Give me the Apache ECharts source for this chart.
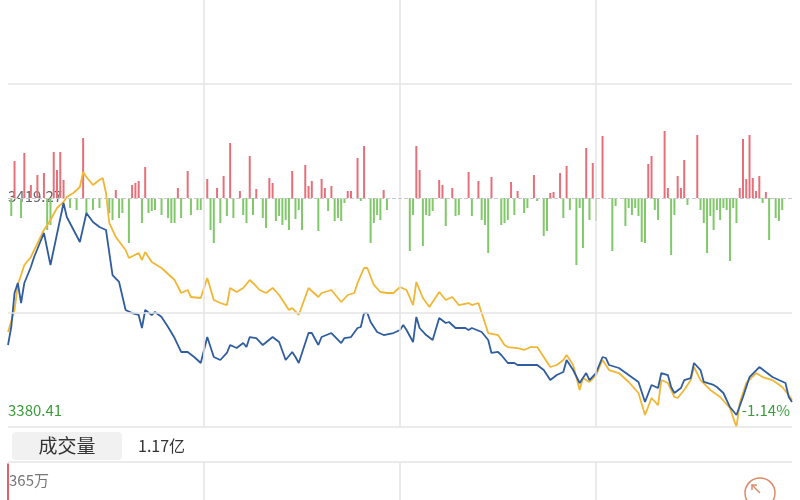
<!DOCTYPE html>
<html><head><meta charset="utf-8">
<script src="https://cdn.jsdelivr.net/npm/echarts@6/dist/echarts.min.js"></script>
<style>html,body{margin:0;padding:0;background:#fff}#c{width:800px;height:500px}</style>
</head><body><div id="c"></div>
<script>
// ---- data (minute index 0..240 of the trading day, value) ----
const prevClose = 3419.27;
const lowPrice = 3380.41;
const axisTopPrice = 3452.87;   // price at the top edge of the visible panel
const gridPrices = [3438.70, 3399.84, 3380.41];
const timeSplits = [60, 120, 180];
const labelTexts = { prev: '3419.27', low: '3380.41', pct: '-1.14%', volBtn: '成交量', volTotal: '1.17亿', volMax: '365万' };

const blueLine = [[0,3394.32],[1,3397.38],[2,3403.15],[3,3404.85],[4,3401.45],[5,3404.85],[7,3407.56],[8,3409.26],[11,3413.33],[13,3407.90],[17,3418.42],[18,3416.05],[22,3411.80],[24,3416.72],[26,3415.20],[28,3414.35],[30,3413.84],[32,3406.20],[34,3405.02],[36,3400.26],[38,3399.75],[40,3399.42],[41,3397.21],[42,3400.26],[44,3399.42],[45,3399.92],[47,3399.08],[49,3397.38],[51,3395.51],[53,3393.14],[55,3393.14],[57,3392.29],[59,3391.27],[61,3395.68],[63,3392.29],[65,3391.78],[67,3392.97],[68,3394.32],[70,3393.81],[72,3394.66],[73,3393.98],[74,3395.68],[76,3395.51],[78,3394.32],[81,3395.68],[83,3394.83],[85,3391.78],[87,3393.14],[88,3392.29],[89,3391.27],[92,3396.36],[93,3396.36],[95,3394.32],[96,3395.68],[99,3396.36],[102,3394.66],[103,3395.51],[105,3395.68],[107,3397.21],[108,3397.38],[109,3399.75],[110,3399.75],[111,3398.23],[113,3396.53],[115,3396.02],[118,3396.36],[120,3396.87],[121,3397.72],[122,3396.87],[124,3394.83],[125,3399.08],[126,3397.21],[128,3396.02],[130,3395.17],[132,3398.91],[134,3398.06],[135,3398.23],[137,3397.21],[140,3397.21],[141,3396.87],[142,3397.21],[145,3396.53],[147,3395.17],[148,3392.97],[150,3393.14],[151,3392.63],[153,3391.27],[155,3391.27],[156,3390.93],[158,3390.93],[160,3390.93],[162,3390.93],[164,3390.08],[166,3388.38],[168,3389.23],[170,3389.74],[171,3391.78],[173,3390.08],[175,3387.88],[177,3389.57],[178,3388.38],[180,3389.57],[182,3392.29],[183,3392.12],[184,3390.93],[187,3390.42],[190,3389.23],[193,3388.05],[195,3384.65],[197,3387.54],[199,3387.03],[200,3389.57],[202,3389.23],[203,3387.20],[204,3386.18],[206,3387.03],[207,3388.38],[209,3388.72],[210,3391.27],[212,3390.08],[213,3388.05],[216,3387.54],[217,3387.20],[219,3386.18],[221,3383.80],[223,3382.45],[225,3385.50],[227,3388.89],[230,3390.59],[232,3389.74],[234,3388.89],[236,3388.38],[238,3387.88],[239,3385.50],[240,3384.65]];

const yellowLine = [[0,3396.53],[2,3400.26],[3,3404.51],[5,3407.90],[7,3409.26],[11,3413.84],[13,3415.54],[15,3417.57],[17,3418.59],[18,3419.44],[20,3420.12],[22,3421.14],[23,3423.68],[24,3422.83],[26,3421.48],[28,3422.32],[29,3422.66],[30,3420.12],[31,3415.03],[33,3412.65],[36,3410.45],[37,3409.09],[40,3409.94],[41,3408.75],[42,3410.11],[44,3408.41],[47,3407.39],[51,3405.35],[53,3403.15],[55,3403.66],[56,3402.47],[59,3402.30],[61,3405.69],[63,3401.96],[65,3401.45],[67,3401.11],[68,3404.00],[70,3403.32],[72,3404.00],[74,3405.35],[75,3404.85],[77,3403.66],[79,3403.15],[81,3404.00],[83,3402.81],[86,3400.26],[87,3400.60],[89,3399.42],[92,3404.00],[95,3402.47],[96,3403.15],[99,3403.66],[102,3401.62],[104,3402.81],[106,3403.15],[107,3404.85],[109,3407.39],[110,3407.39],[112,3404.51],[114,3403.32],[116,3403.15],[118,3403.15],[120,3404.17],[122,3403.66],[124,3401.11],[125,3405.02],[127,3402.30],[129,3400.77],[132,3403.32],[134,3401.96],[136,3402.47],[138,3401.11],[141,3401.45],[142,3401.11],[144,3401.45],[145,3399.75],[147,3396.36],[150,3396.02],[152,3394.32],[153,3393.98],[156,3393.81],[158,3393.48],[160,3393.98],[162,3393.98],[164,3392.29],[166,3390.59],[168,3390.93],[170,3391.78],[171,3392.63],[173,3390.93],[175,3386.69],[176,3388.72],[178,3388.05],[180,3389.23],[182,3391.78],[184,3390.08],[187,3389.57],[190,3388.05],[193,3386.18],[195,3382.45],[197,3385.33],[199,3384.14],[200,3388.38],[202,3387.88],[204,3385.50],[205,3385.33],[207,3386.69],[209,3388.38],[210,3390.59],[212,3388.38],[215,3386.69],[218,3385.50],[221,3383.63],[223,3380.41],[224,3384.48],[226,3387.88],[229,3389.57],[231,3388.89],[234,3388.38],[237,3387.20],[239,3385.84],[240,3384.99]];

const strengthBars = [[1,-18],[2,37],[4,-20],[5,45],[7,13],[9,23],[11,25],[12,-32],[13,-27],[14,46],[15,28],[16,46],[17,18],[19,-10],[21,-12],[23,60],[24,-15],[26,-12],[28,-10],[31,-15],[32,-22],[33,8],[34,-20],[35,-15],[37,-45],[38,13],[39,15],[40,17],[41,-25],[42,31],[43,-15],[44,-13],[45,-12],[47,-17],[49,-20],[50,-25],[51,-25],[52,10],[53,-20],[55,27],[56,-17],[58,-12],[59,-12],[61,19],[62,-32],[63,-45],[64,10],[65,-25],[66,22],[67,-18],[68,55],[69,-20],[71,7],[72,-17],[73,-25],[74,42],[75,-17],[76,9],[78,-20],[79,-30],[80,20],[81,15],[82,-23],[83,-18],[84,-27],[85,-22],[86,-32],[87,27],[88,-21],[89,-12],[90,-32],[91,33],[92,12],[93,17],[95,-33],[96,19],[97,10],[98,-13],[99,12],[100,-23],[101,-20],[102,-23],[103,-5],[104,7],[105,7],[107,40],[108,-3],[109,52],[111,-45],[112,-25],[113,-17],[114,-22],[115,8],[116,-12],[123,-53],[124,-17],[125,52],[126,28],[127,-48],[128,-17],[129,-18],[130,-13],[132,18],[133,13],[134,-28],[136,10],[137,-18],[138,-17],[141,26],[142,-18],[144,17],[145,-22],[146,-27],[147,-55],[148,21],[151,-27],[152,-25],[153,-22],[154,16],[155,-17],[156,7],[158,-15],[159,-10],[161,23],[162,-3],[164,-38],[165,-33],[166,5],[167,6],[169,25],[170,-20],[171,32],[172,-12],[174,-67],[175,-10],[176,-50],[177,50],[178,-22],[179,35],[180,-23],[182,62],[185,-53],[186,-8],[189,-28],[190,-10],[191,-17],[192,-10],[193,-18],[194,-44],[195,-45],[196,34],[197,42],[198,-12],[199,-22],[201,67],[202,10],[203,-57],[204,-17],[205,22],[206,10],[207,38],[208,-7],[211,63],[212,-12],[213,-25],[214,-55],[215,-18],[216,-32],[217,-12],[218,-22],[219,-10],[220,-12],[221,-63],[222,-10],[223,-25],[224,10],[225,59],[226,19],[227,63],[228,20],[229,7],[230,22],[231,-5],[232,6],[233,-42],[235,-20],[236,-23],[237,-12]];
const strengthRange = [-229, 198];

const volumeBars = [[0,365]];
const volumeMax = 380;

// ---- chart ----
const chart = echarts.init(document.getElementById('c'));
const gridColor = '#e4e4e4';
const fontCN = '"Noto Sans CJK SC","Noto Sans",sans-serif';

const vLines = timeSplits.map(v => ({ xAxis: v }));
const option = {
  animation: false,
  backgroundColor: '#ffffff',
  grid: [
    { left: 8, right: 8, top: 0, height: 427 },
    { left: 8, right: 8, top: 462, height: 100 }
  ],
  xAxis: [
    { type: 'value', gridIndex: 0, min: 0, max: 240, show: false },
    { type: 'value', gridIndex: 1, min: 0, max: 240, show: false }
  ],
  yAxis: [
    { type: 'value', gridIndex: 0, min: lowPrice, max: axisTopPrice, show: false },
    { type: 'value', gridIndex: 0, min: strengthRange[0], max: strengthRange[1], show: false },
    { type: 'value', gridIndex: 1, min: 0, max: volumeMax, show: false }
  ],
  series: [
    {
      type: 'line', xAxisIndex: 0, yAxisIndex: 0, data: [], silent: true, z: 1,
      markLine: {
        silent: true, symbol: 'none', label: { show: false },
        lineStyle: { color: gridColor, type: 'solid', width: 1.5 },
        data: gridPrices.map(v => ({ yAxis: v })).concat(vLines)
      }
    },
    {
      type: 'line', xAxisIndex: 0, yAxisIndex: 0, data: [], silent: true, z: 1,
      markLine: {
        silent: true, symbol: 'none', label: { show: false },
        lineStyle: { color: '#c8c8c8', type: 'dashed', width: 1 },
        data: [{ yAxis: prevClose }]
      }
    },
    {
      type: 'bar', xAxisIndex: 0, yAxisIndex: 1, data: strengthBars, barWidth: 2, z: 2,
      itemStyle: { color: p => p.value[1] >= 0 ? '#e6707a' : '#80c86a' }
    },
    {
      type: 'line', xAxisIndex: 0, yAxisIndex: 0, data: yellowLine, showSymbol: false, z: 3,
      lineStyle: { color: '#f1b634', width: 1.8 }
    },
    {
      type: 'line', xAxisIndex: 0, yAxisIndex: 0, data: blueLine, showSymbol: false, z: 4,
      lineStyle: { color: '#2f5d9f', width: 1.8 }
    },
    {
      type: 'bar', xAxisIndex: 1, yAxisIndex: 2, data: volumeBars, barWidth: 2, z: 2,
      itemStyle: { color: '#e0606c' },
      markLine: {
        silent: true, symbol: 'none', label: { show: false },
        lineStyle: { color: gridColor, type: 'solid', width: 1.5 },
        data: [{ yAxis: volumeMax }].concat(vLines)
      }
    }
  ],
  graphic: [
    { type: 'text', left: 8, top: 189, z: 0, style: { text: labelTexts.prev, fill: '#666', font: '15px ' + fontCN } },
    { type: 'text', left: 8, top: 403, style: { text: labelTexts.low, fill: '#3a9c3a', font: '15px ' + fontCN } },
    { type: 'text', right: 10, top: 403, style: { text: labelTexts.pct, fill: '#3a9c3a', font: '15px ' + fontCN } },
    { type: 'rect', shape: { x: 12, y: 432, width: 110, height: 28, r: 4 }, style: { fill: '#f1f1f1' } },
    { type: 'text', x: 67, y: 446, style: { text: labelTexts.volBtn, fill: '#333', font: '19px ' + fontCN, align: 'center', verticalAlign: 'middle' } },
    { type: 'text', x: 138, y: 446, style: { text: labelTexts.volTotal, fill: '#333', font: '16px ' + fontCN, verticalAlign: 'middle' } },
    { type: 'text', x: 9, y: 480, style: { text: labelTexts.volMax, fill: '#777', font: '15px ' + fontCN, verticalAlign: 'middle' } },
    { type: 'circle', shape: { cx: 760, cy: 493, r: 15 }, style: { fill: 'none', stroke: '#de8a68', lineWidth: 1.5 } },
    { type: 'polyline', shape: { points: [[752, 485], [760, 493]] }, style: { stroke: '#de8a68', lineWidth: 1.5 } },
    { type: 'polyline', shape: { points: [[752, 490], [752, 485], [757, 485]] }, style: { stroke: '#de8a68', fill: 'none', lineWidth: 1.5 } }
  ]
};
chart.setOption(option);
</script></body></html>
